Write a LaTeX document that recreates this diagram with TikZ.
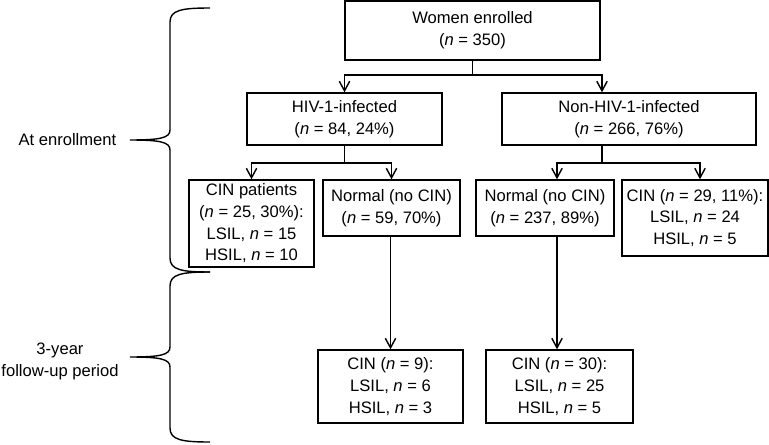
\documentclass[tikz,border=0pt]{standalone}
\usepackage{fontspec}
\setmainfont{Liberation Sans}
\usepackage{tikz}
\usetikzlibrary{arrows.meta,positioning}

\begin{document}
\begin{tikzpicture}[
  box/.style={draw, align=center, inner sep=2pt},
  lbl/.style={align=center, inner sep=0pt},
  >={Straight Barb[length=2.4mm,width=2.6mm]},
  line width=1pt,
  font=\fontsize{11.8}{15.4}\selectfont
]
\useasboundingbox (0,0) rectangle (19.225,11.1);

\node[box, minimum width=6.375cm, minimum height=1.475cm] (women) at (11.8125,10.3375) {Women enrolled\\(\textit{n} = 350)};
\node[box, minimum width=4.875cm, minimum height=1.3cm] (hiv) at (8.6125,8.125) {HIV-1-infected\\(\textit{n} = 84, 24\%)};
\node[box, minimum width=6.35cm, minimum height=1.3cm] (nonhiv) at (15.725,8.125) {Non-HIV-1-infected\\(\textit{n} = 266, 76\%)};
\node[box, minimum width=3.125cm, minimum height=2.175cm] (cinpat) at (6.2875,5.5125) {CIN patients\\(\textit{n} = 25, 30\%):\\LSIL, \textit{n} = 15\\HSIL, \textit{n} = 10};
\node[box, minimum width=3.425cm, minimum height=1.4cm] (normhiv) at (9.7875,5.9) {Normal (no CIN)\\(\textit{n} = 59, 70\%)};
\node[box, minimum width=3.45cm, minimum height=1.4cm] (normneg) at (13.625,5.9) {Normal (no CIN)\\(\textit{n} = 237, 89\%)};
\node[box, minimum width=3.65cm, minimum height=1.9cm] (cinneg) at (17.375,5.65) {CIN (\textit{n} = 29, 11\%):\\LSIL, \textit{n} = 24\\HSIL, \textit{n} = 5};
\node[box, minimum width=3.625cm, minimum height=1.825cm] (fuhiv) at (9.7625,1.4375) {CIN (\textit{n} = 9):\\LSIL, \textit{n} = 6\\HSIL, \textit{n} = 3};
\node[box, minimum width=3.675cm, minimum height=1.825cm] (funeg) at (13.9875,1.4375) {CIN (\textit{n} = 30):\\LSIL, \textit{n} = 25\\HSIL, \textit{n} = 5};

\node[lbl, anchor=east] (enrol) at (2.925,7.6) {At enrollment};
\node[lbl] (follow) at (1.5,2.06) {3-year\\follow-up period};

\coordinate (j0) at (11.8125,9.225);
\coordinate (j1) at (8.6125,7.025);
\coordinate (j2) at (15.05,7.025);
\coordinate (c2) at (13.925,0);
\coordinate (c3) at (17.5,0);

\draw (women) -- (j0);
\draw[->] (j0) -| (hiv);
\draw[->] (j0) -| (nonhiv.north -| j2);
\draw (hiv) -- (j1);
\draw[->] (j1) -| (cinpat);
\draw[->] (j1) -| (normhiv);
\draw (nonhiv.south -| j2) -- (j2);
\draw[->] (j2) -| (normneg.north -| c2);
\draw[->] (j2) -| (cinneg.north -| c3);
\draw[->] (normhiv.south -| fuhiv) -- (fuhiv);
\draw[->] (normneg.south -| c2) -- (funeg.north -| c2);

\draw (5.25,10.9) .. controls (4.55,10.9) and (4.25,10.85) .. (4.25,10.55) -- (4.25,7.85)
  .. controls (4.25,7.65) and (4.0,7.6) .. (3.25,7.6) .. controls (4.0,7.6) and (4.25,7.55) .. (4.25,7.35)
  -- (4.25,4.65) .. controls (4.25,4.35) and (4.55,4.3) .. (5.25,4.3);
\draw (5.25,4.3) .. controls (4.55,4.3) and (4.25,4.25) .. (4.25,3.95) -- (4.25,2.425)
  .. controls (4.25,2.225) and (4.0,2.175) .. (3.25,2.175) .. controls (4.0,2.175) and (4.25,2.125) .. (4.25,1.925)
  -- (4.25,0.4) .. controls (4.25,0.1) and (4.55,0.05) .. (5.25,0.05);
\end{tikzpicture}
\end{document}
